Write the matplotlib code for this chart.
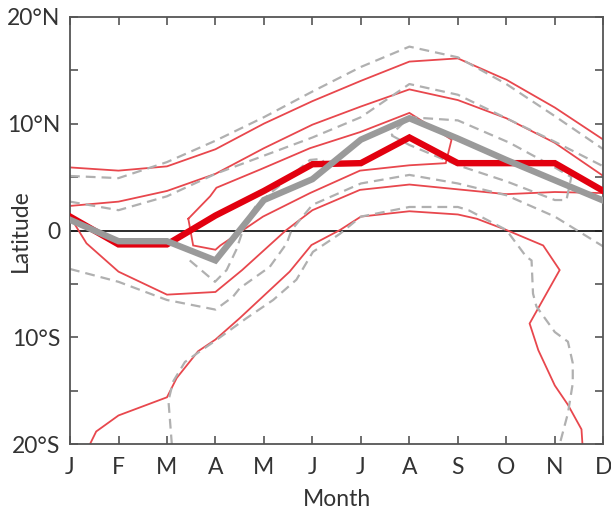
import matplotlib
matplotlib.use("Agg")
import matplotlib.pyplot as plt
from matplotlib.ticker import MultipleLocator

plt.rcParams['font.family'] = ['Lato', 'DejaVu Sans']

month_labels = ['J', 'F', 'M', 'A', 'M', 'J', 'J', 'A', 'S', 'O', 'N', 'D']
months = list(range(12))

# thick lines (monthly latitude)
thick_red = [1.3, -1.3, -1.3, 1.4, 3.7, 6.2, 6.3, 8.7, 6.3, 6.3, 6.3, 3.7]
thick_gray = [1.0, -1.0, -1.0, -2.8, 2.85, 4.8, 8.5, 10.5, 8.6, 6.6, 4.7, 2.8]

# thin red contours (month, latitude)
r1_lat = [5.9, 5.6, 6.0, 7.6, 10.0, 12.1, 14.0, 15.8, 16.1, 14.1, 11.5, 8.5]
r2_lat = [2.3, 2.7, 3.7, 5.3, 7.7, 9.9, 11.6, 13.2, 12.2, 10.5, 8.2, 5.1]
r3_x = [2.44, 2.89, 3.02, 3.92, 4.95, 5.98, 7.0, 7.87, 7.75, 7.0, 5.98, 4.95, 3.98, 3.1, 3.0, 2.54, 2.44]
r3_y = [1.1, 3.2, 4.0, 5.7, 7.7, 9.2, 11.0, 8.5, 6.3, 6.1, 5.6, 3.5, 1.3, -1.4, -1.8, -1.4, 1.1]
r4_x = [0, 0.34, 1.0, 2.0, 3.0, 3.55, 4.45, 5.0, 5.98, 7.0, 8.0, 9.0, 10.0, 11.0]
r4_y = [1.3, -1.2, -3.85, -6.0, -5.75, -3.7, 0.0, 1.9, 3.8, 4.3, 3.85, 3.4, 3.6, 3.5]
r5_x = [0.41, 0.54, 1.0, 2.0, 2.2, 2.64, 3.0, 3.5, 4.53, 4.98, 5.57, 6.0, 7.0, 8.0, 8.39,
        9.0, 9.76, 10.1, 9.48, 9.66, 10.0, 10.27, 10.55, 10.57]
r5_y = [-20, -18.8, -17.3, -15.6, -13.8, -11.3, -10.2, -8.2, -3.85, -1.36, 0.05, 1.3, 1.8, 1.5, 1.1,
        0.05, -1.4, -3.7, -8.7, -11.2, -14.5, -16.3, -18.6, -20]

# gray dashed contours (month, latitude)
g1_lat = [5.1, 4.9, 6.4, 8.4, 10.6, 13.0, 15.3, 17.2, 16.2, 13.7, 10.7, 7.6]
g2_lat = [2.7, 1.9, 3.2, 5.3, 7.0, 8.7, 10.6, 13.7, 12.7, 10.5, 8.3, 6.0]
g3_x = [6.63, 7.0, 8.0, 9.0, 10.0, 10.24, 10.34, 9.96, 9.07, 8.0, 7.0, 6.7, 6.63]
g3_y = [8.9, 8.0, 6.1, 4.6, 2.85, 2.85, 5.0, 6.0, 8.2, 10.3, 10.6, 9.3, 8.9]
g4_x = [0, 1.0, 2.0, 3.0, 3.36, 3.5, 4.12, 4.47, 4.57, 5.0, 6.0, 7.0, 8.0, 9.0, 10.0, 11.0]
g4_y = [-3.6, -4.8, -6.5, -7.4, -6.2, -5.4, -3.4, -1.2, 0.05, 2.4, 4.4, 5.2, 4.4, 3.3, 1.3, -1.5]
g5_x = [2.1, 2.03, 2.13, 2.37, 2.68, 3.0, 3.64, 4.19, 4.67, 5.01, 5.57, 6.0, 7.0, 8.0, 8.22,
        9.0, 9.41, 9.52, 9.55, 9.62, 10.0, 10.27, 10.37, 10.37, 10.27, 10.1]
g5_y = [-20, -15.9, -14.1, -12.3, -11.3, -10.3, -8.2, -6.5, -4.6, -2.0, -0.3, 1.3, 2.2, 2.2, 1.9,
        0.05, -2.45, -2.8, -5.9, -7.1, -9.5, -10.4, -12.4, -14.3, -17.1, -20]
g6_x = [2.47, 2.99, 3.23, 3.43, 3.64, 3.85, 4.95, 5.2, 5.25]
g6_y = [-2.8, -4.8, -3.7, -1.8, 1.0, 2.4, 6.6, 6.7, 6.2]

red_thin = '#e8474d'
gray_dash = '#b0b0b0'
text_col = '#333333'

fig = plt.figure(figsize=(6.11, 5.12), dpi=100)
ax = fig.add_axes([0.1146, 0.1322, 0.8728, 0.8352])

thin = dict(color=red_thin, lw=1.3, zorder=2, solid_joinstyle='miter')
dash = dict(color=gray_dash, lw=1.6, dashes=(4.4, 2.7), zorder=2)

ax.plot(months, r1_lat, **thin)
ax.plot(months, r2_lat, **thin)
ax.plot(r3_x, r3_y, **thin)
ax.plot(r4_x, r4_y, **thin)
ax.plot(r5_x, r5_y, **thin)

ax.plot(months, g1_lat, **dash)
ax.plot(months, g2_lat, **dash)
ax.plot(g3_x, g3_y, **dash)
ax.plot(g4_x, g4_y, **dash)
ax.plot(g5_x, g5_y, **dash)
ax.plot(g6_x, g6_y, **dash)

ax.axhline(0, color='#1a1a1a', lw=1.3, zorder=1.8)

ax.plot(months, thick_red, color='#e2000f', lw=4.6, zorder=3, solid_joinstyle='miter')
ax.plot(months, thick_gray, color='#9a9a9a', lw=4.6, zorder=4, solid_joinstyle='miter')

ax.set_xlim(0, 11)
ax.set_ylim(-20, 20)
ax.set_xticks(months)
ax.set_xticklabels(month_labels)
ax.set_yticks([-20, -10, 0, 10, 20])
ax.set_yticklabels(['20°S', '10°S', '0', '10°N', '20°N'])
ax.yaxis.set_minor_locator(MultipleLocator(5))

for s in ax.spines.values():
    s.set_color('#555555')
    s.set_linewidth(1.3)

ax.tick_params(which='both', direction='in', top=True, right=True, color='#555555', width=1.2)
ax.tick_params(which='major', length=6)
ax.tick_params(which='minor', length=6)
ax.tick_params(axis='x', labelsize=16.5, pad=9, labelcolor=text_col)
ax.tick_params(axis='y', labelsize=16.5, pad=7, labelcolor=text_col)

ax.set_xlabel('Month', fontsize=16.5, color=text_col)
ax.set_ylabel('Latitude', fontsize=16.5, color=text_col)
ax.xaxis.label.set_va('center')
ax.yaxis.label.set_va('center')
ax.xaxis.set_label_coords(0.5, -0.13)
ax.yaxis.set_label_coords(-0.094, 0.5)

fig.savefig('out.png', dpi=100)
